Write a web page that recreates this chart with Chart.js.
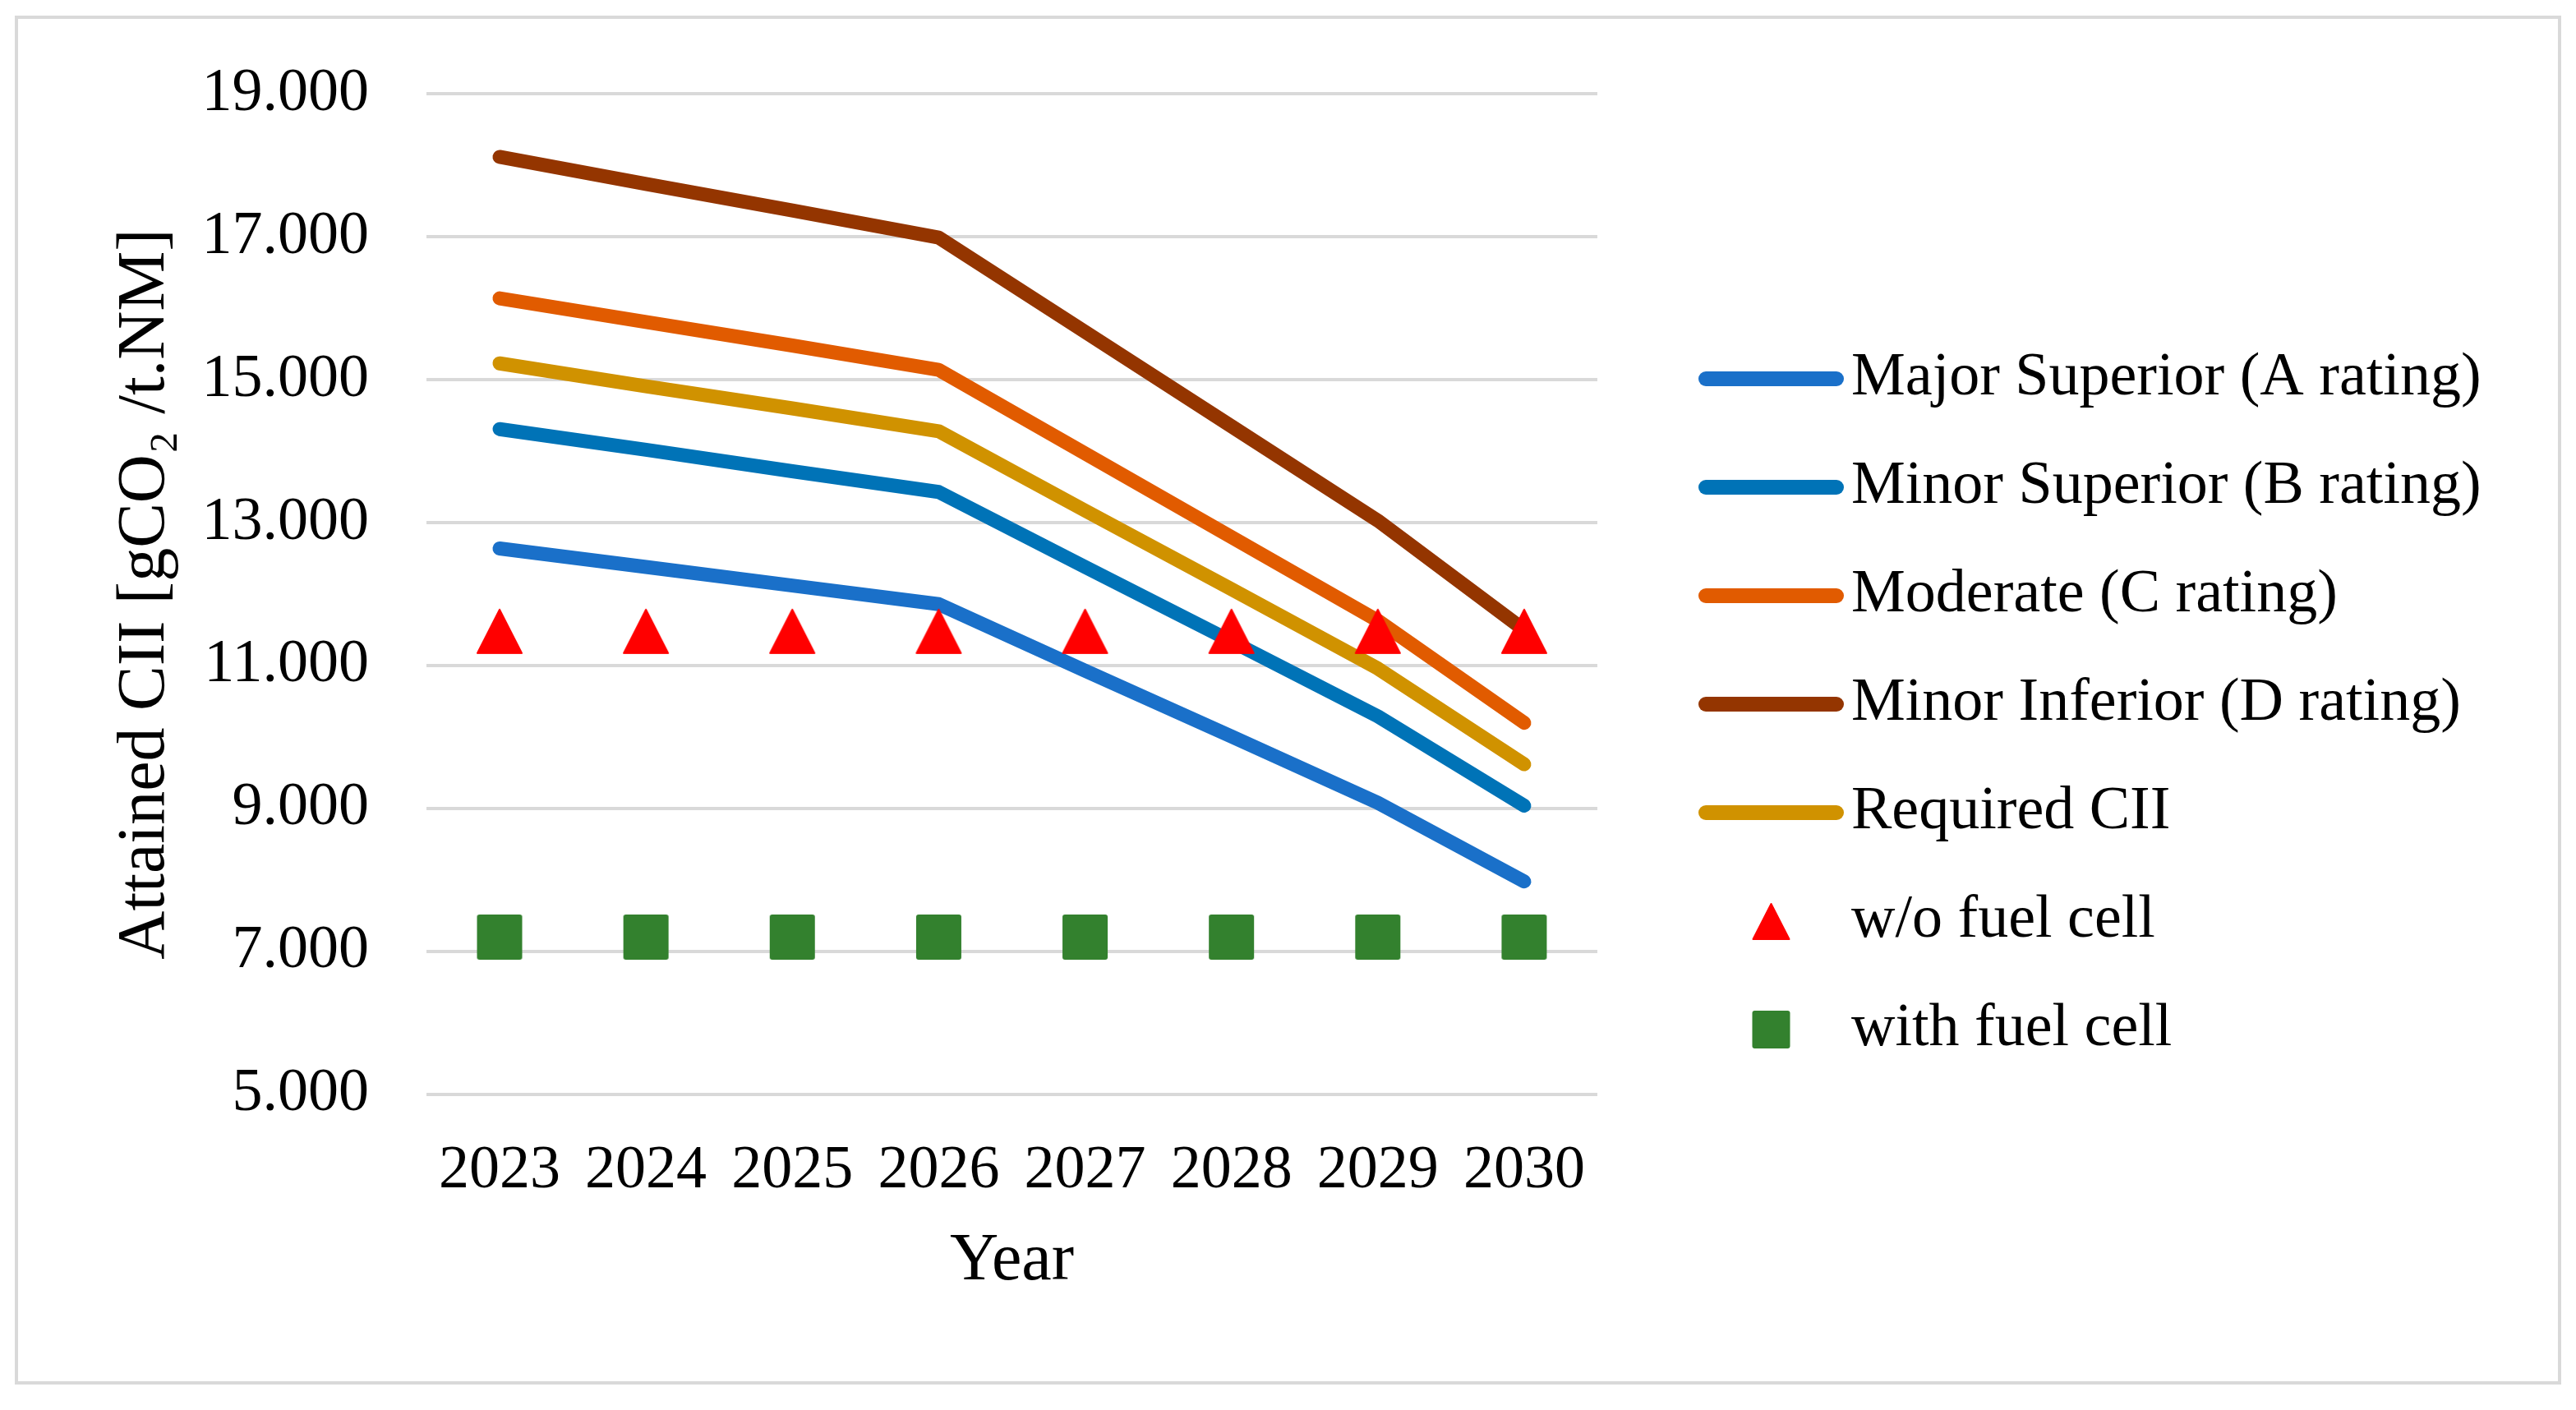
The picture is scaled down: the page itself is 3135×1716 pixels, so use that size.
<!DOCTYPE html>
<html>
<head>
<meta charset="utf-8">
<script src="https://cdn.jsdelivr.net/npm/chart.js@4.4.0/dist/chart.umd.min.js"></script>
<style>
html,body{margin:0;padding:0;background:#fff;}
canvas{display:block;}
</style>
</head>
<body>
<canvas id="c" width="3135" height="1716"></canvas>
<script>
// ---- data ----
const years = ['2023', '2024', '2025', '2026', '2027', '2028', '2029', '2030'];
const majorSuperiorA = [12.64, 12.38, 12.12, 11.86, 10.93, 10.01, 9.08, 7.98];
const minorSuperiorB = [14.31, 14.02, 13.72, 13.43, 12.38, 11.34, 10.29, 9.04];
const moderateC      = [16.14, 15.81, 15.48, 15.14, 13.97, 12.80, 11.63, 10.20];
const minorInferiorD = [18.12, 17.74, 17.37, 16.99, 15.67, 14.35, 13.03, 11.50];
const requiredCII    = [15.23, 14.91, 14.60, 14.28, 13.17, 12.07, 10.96, 9.62];
const withoutFuelCell = [11.48, 11.48, 11.48, 11.48, 11.48, 11.48, 11.48, 11.48];
const withFuelCell    = [7.20, 7.20, 7.20, 7.20, 7.20, 7.20, 7.20, 7.20];
const yTickValues = [5, 7, 9, 11, 13, 15, 17, 19];

const seriesNames = ['Major Superior (A rating)', 'Minor Superior (B rating)', 'Moderate (C rating)',
  'Minor Inferior (D rating)', 'Required CII', 'w/o fuel cell', 'with fuel cell'];
const colors = ['#1a70c9', '#0073b7', '#e15b00', '#943500', '#d09200', '#ff0000', '#33812e'];

const FONT = "'Liberation Serif', 'Times New Roman', serif";
Chart.defaults.font.family = FONT;
Chart.defaults.color = '#000';

// ---- marker images ----
function triangleImg(w, h, color, cw, cx) {
  const c = document.createElement('canvas');
  c.width = cw || w + 4; c.height = h + 4;
  const g = c.getContext('2d');
  const mx = cx !== undefined ? cx : c.width / 2;
  const top = 2, bot = 2 + h;
  g.fillStyle = color;
  g.strokeStyle = color;
  g.lineJoin = 'round';
  g.lineWidth = 2;
  g.beginPath();
  g.moveTo(mx, top + 1);
  g.lineTo(mx + w / 2 - 1, bot - 1);
  g.lineTo(mx - w / 2 + 1, bot - 1);
  g.closePath();
  g.fill(); g.stroke();
  return c;
}
function squareImg(s, hgt, color, cw, cx) {
  const c = document.createElement('canvas');
  c.width = cw || s + 4; c.height = hgt + 4;
  const g = c.getContext('2d');
  const mx = cx !== undefined ? cx : c.width / 2;
  g.fillStyle = color;
  g.beginPath();
  if (g.roundRect) g.roundRect(mx - s / 2, 2, s, hgt, 3); else g.rect(mx - s / 2, 2, s, hgt);
  g.fill();
  return c;
}
function lineImg(color, cw, x0, x1, lw) {
  const c = document.createElement('canvas');
  c.width = cw; c.height = 30;
  const g = c.getContext('2d');
  g.strokeStyle = color;
  g.lineWidth = lw;
  g.lineCap = 'round';
  g.beginPath();
  g.moveTo(x0, 15); g.lineTo(x1, 15);
  g.stroke();
  return c;
}

const pointTri = triangleImg(56, 55, colors[5]);
const pointSq = squareImg(55, 55, colors[6]);

const LEG_W = 267, LEG_CX = 178.5;
const legendImgs = [0, 1, 2, 3, 4].map(i => lineImg(colors[i], LEG_W, 99, 258, 18));
legendImgs.push(triangleImg(46, 45, colors[5], LEG_W, LEG_CX));
legendImgs.push(squareImg(46, 46, colors[6], LEG_W, LEG_CX));

const lineSeries = [majorSuperiorA, minorSuperiorB, moderateC, minorInferiorD, requiredCII];
const datasets = lineSeries.map((d, i) => ({
  label: seriesNames[i],
  data: d,
  borderColor: colors[i],
  backgroundColor: colors[i],
  borderWidth: 17,
  borderCapStyle: 'round',
  borderJoinStyle: 'round',
  pointRadius: 0,
  tension: 0,
  fill: false,
  order: 2
}));
datasets.push({
  label: seriesNames[5], data: withoutFuelCell, showLine: false,
  pointStyle: pointTri, pointRadius: 28, backgroundColor: colors[5], borderColor: colors[5], order: 1
});
datasets.push({
  label: seriesNames[6], data: withFuelCell, showLine: false,
  pointStyle: pointSq, pointRadius: 28, backgroundColor: colors[6], borderColor: colors[6], order: 1
});

const framePlugin = {
  id: 'frame',
  beforeDraw(chart) {
    const g = chart.ctx;
    g.save();
    g.fillStyle = '#fff';
    g.fillRect(0, 0, chart.width, chart.height);
    g.strokeStyle = '#d9d9d9';
    g.lineWidth = 4;
    g.strokeRect(20, 21, 3095, 1662);
    g.restore();
  }
};

// legend drawn from the chart's datasets (labels + swatches)
const ROW_GAP = 132;
const legendPlugin = {
  id: 'sideLegend',
  afterDraw(chart) {
    const g = chart.ctx;
    const left = chart.chartArea.right;
    const n = chart.data.datasets.length;
    const y0 = chart.height / 2 - 1 - ROW_GAP * (n - 1) / 2;
    g.save();
    g.font = '74px ' + FONT;
    g.fillStyle = '#000';
    g.textBaseline = 'middle';
    g.textAlign = 'left';
    chart.data.datasets.forEach((ds, i) => {
      const y = y0 + i * ROW_GAP;
      const img = legendImgs[i];
      g.drawImage(img, left + 33, Math.round(y - img.height / 2));
      g.fillText(ds.label, left + 309, y);
    });
    g.restore();
  }
};

new Chart(document.getElementById('c'), {
  type: 'line',
  data: { labels: years, datasets },
  options: {
    responsive: false,
    animation: false,
    devicePixelRatio: 1,
    layout: { padding: { left: 40, top: 114, right: 1191, bottom: 131 } },
    plugins: {
      tooltip: { enabled: false },
      legend: { display: false }
    },
    scales: {
      x: {
        offset: true,
        grid: { display: false },
        border: { display: false },
        ticks: { font: { family: FONT, size: 74 }, color: '#000', padding: 41 },
        title: { display: true, text: 'Year', font: { family: FONT, size: 82 }, color: '#000', padding: { top: -24, bottom: 0 } }
      },
      y: {
        min: 5, max: 19,
        afterBuildTicks: scale => { scale.ticks = yTickValues.map(v => ({ value: v })); },
        grid: { color: '#d9d9d9', lineWidth: 4, drawTicks: false },
        border: { display: false },
        ticks: { font: { family: FONT, size: 74 }, color: '#000', padding: 70, callback: v => Number(v).toFixed(3) },
        title: { display: true, text: 'Attained CII [gCO\u2082 /t.NM]', font: { family: FONT, size: 82 }, color: '#000', padding: { top: 88, bottom: -51 } }
      }
    }
  },
  plugins: [framePlugin, legendPlugin]
});
</script>
</body>
</html>
